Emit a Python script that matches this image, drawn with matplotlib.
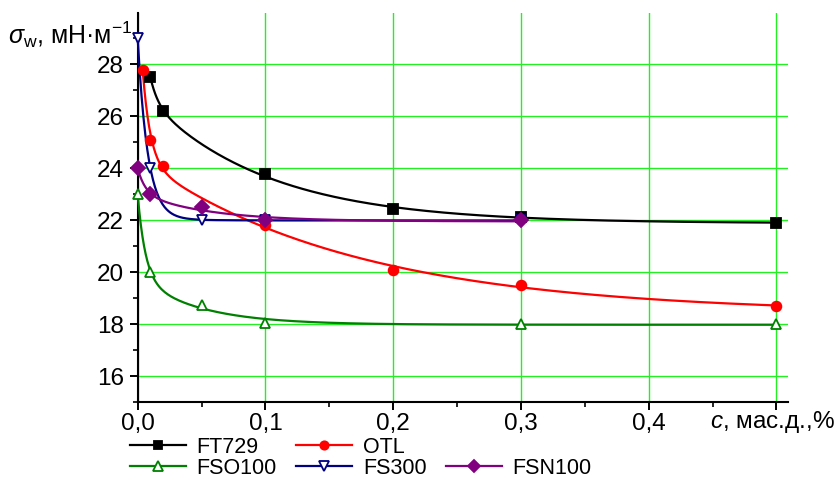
import numpy as np
import matplotlib
matplotlib.use("Agg")
import matplotlib.pyplot as plt
from matplotlib.lines import Line2D

plt.rcParams['font.family'] = ['Liberation Sans', 'DejaVu Sans']
plt.rcParams['mathtext.fontset'] = 'custom'
plt.rcParams['mathtext.rm'] = 'Liberation Sans'
plt.rcParams['mathtext.it'] = 'Liberation Sans:italic'

# data
ft729_x = [0.01, 0.02, 0.1, 0.2, 0.3, 0.5]
ft729_y = [27.5, 26.2, 23.8, 22.42, 22.12, 21.9]
otl_x = [0.004, 0.01, 0.02, 0.1, 0.2, 0.3, 0.5]
otl_y = [27.8, 25.1, 24.1, 21.8, 20.1, 19.5, 18.7]
fso100_x = [0.0, 0.01, 0.05, 0.1, 0.3, 0.5]
fso100_y = [23.0, 20.0, 18.75, 18.05, 18.0, 18.0]
fs300_x = [0.0, 0.01, 0.05, 0.1, 0.3]
fs300_y = [29.0, 24.0, 22.0, 22.0, 22.0]
fsn100_x = [0.0, 0.01, 0.05, 0.1, 0.3]
fsn100_y = [24.0, 23.0, 22.5, 22.0, 22.0]

x_ticks = [0.0, 0.1, 0.2, 0.3, 0.4, 0.5]
x_labels = ['0,0', '0,1', '0,2', '0,3', '0,4', '']
y_ticks = [16, 18, 20, 22, 24, 26, 28]


def fit_curve(x, y):
    # smooth decay curve a + b*exp(-x/t1) + c*exp(-x/t2) fitted to the points
    x = np.asarray(x, float)
    y = np.asarray(y, float)
    best = None
    for t1 in np.geomspace(0.006, 0.06, 35):
        for t2 in np.geomspace(0.03, 1.5, 35):
            A = np.column_stack([np.ones_like(x), np.exp(-x / t1), np.exp(-x / t2)])
            coef, *_ = np.linalg.lstsq(A, y, rcond=None)
            if coef[1] < 0 or coef[2] < 0:
                continue
            sse = ((A @ coef - y) ** 2).sum()
            if best is None or sse < best[0]:
                best = (sse, t1, t2, coef)
    _, t1, t2, coef = best
    xs = np.linspace(x[0], x[-1], 400)
    ys = coef[0] + coef[1] * np.exp(-xs / t1) + coef[2] * np.exp(-xs / t2)
    return xs, ys


fig = plt.figure(figsize=(8.38, 4.82), dpi=100)
ax = fig.add_axes([0.1643, 0.166, 0.776, 0.808])

series = [
    ('FT729', ft729_x, ft729_y, 'black', 's', 'black', 6.5),
    ('OTL', otl_x, otl_y, '#ff0000', 'o', '#ff0000', 7),
    ('FSO100', fso100_x, fso100_y, '#008000', '^', 'white', 7.5),
    ('FS300', fs300_x, fs300_y, '#000080', 'v', 'white', 7.5),
    ('FSN100', fsn100_x, fsn100_y, '#800080', 'D', '#800080', 7),
]

handles = {}
for name, x, y, col, mk, mfc, ms in series:
    xs, ys = fit_curve(x, y)
    ax.plot(xs, ys, color=col, lw=1.6, zorder=3, clip_on=False)
    ax.plot(x, y, ls='none', marker=mk, ms=ms, mfc=mfc, mec=col, mew=1.3,
            zorder=4, clip_on=False)
    handles[name] = Line2D([], [], color=col, lw=1.6, marker=mk, ms=ms - 1,
                           mfc=mfc, mec=col, mew=1.3)

ax.set_xlim(0, 0.509)
ax.set_ylim(15, 30)
ax.set_xticks(x_ticks)
ax.set_xticklabels(x_labels)
ax.set_xticks(np.arange(0.05, 0.5, 0.1), minor=True)
ax.set_yticks(y_ticks)
ax.set_yticks(np.arange(15, 30, 2), minor=True)
ax.grid(True, which='major', color='#22f022', lw=1.0, zorder=1)
ax.set_axisbelow(True)

for s in ['top', 'right']:
    ax.spines[s].set_visible(False)
for s in ['left', 'bottom']:
    ax.spines[s].set_linewidth(1.5)
ax.tick_params(which='major', length=6, width=1.4, labelsize=17.5, pad=2)
ax.tick_params(axis='y', which='major', pad=4)
ax.tick_params(which='minor', length=3.5, width=1.2)

fig.text(0.01, 1 - 35 / 482, r'$\sigma_{\mathrm{w}}$, мН·м$^{-1}$', fontsize=18,
         va='center', ha='left')
fig.text(0.997, 1 - 422 / 482, r'$c$, мас.д.,%', fontsize=17.5, va='center', ha='right')

blank = Line2D([], [], alpha=0)
order = [handles['FT729'], handles['FSO100'], handles['OTL'], handles['FS300'],
         blank, handles['FSN100']]
labels = ['FT729', 'FSO100', 'OTL', 'FS300', '', 'FSN100']
fig.legend(order, labels, ncol=3, loc='upper left', bbox_to_anchor=(0.155, 0.094),
           frameon=False, fontsize=15.5, handlelength=2.6, handletextpad=0.5,
           columnspacing=0.9, labelspacing=0.0, borderpad=0, borderaxespad=0)

fig.savefig('out.png', dpi=100)
